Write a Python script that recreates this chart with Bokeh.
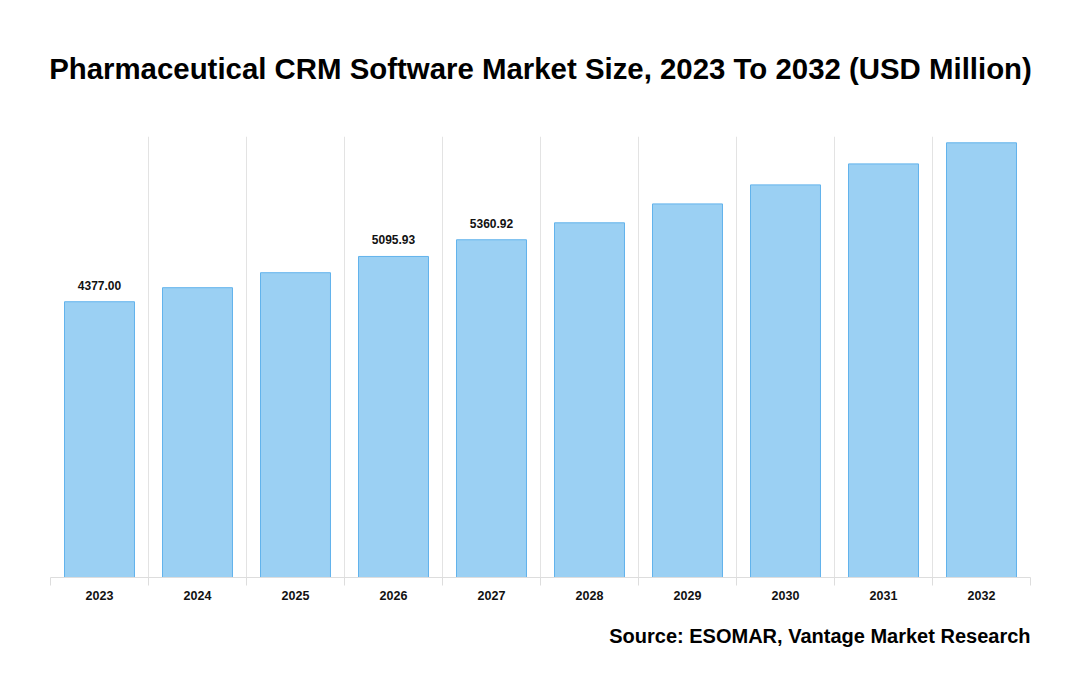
from bokeh.plotting import figure
from bokeh.models import ColumnDataSource, Range1d, FixedTicker, Title, LabelSet
from bokeh.core.properties import value
from bokeh.embed import file_html
from bokeh.resources import INLINE

years = ["2023", "2024", "2025", "2026", "2027", "2028", "2029", "2030", "2031", "2032"]
values = [4377.00, 4600, 4838, 5095.93, 5360.92, 5630, 5930, 6232, 6565, 6900]
value_labels = ["4377.00", "", "", "5095.93", "5360.92", "", "", "", "", "6900"]

FONT = "Liberation Sans"

xs = list(range(len(years)))
src = ColumnDataSource(dict(x=xs, top=values, lab=value_labels))

p = figure(width=1080, height=696, output_backend="svg", toolbar_location=None,
           x_range=Range1d(-0.5, len(years) - 0.5), y_range=Range1d(0, 7000),
           min_border_left=50, min_border_right=50, min_border_top=136, min_border_bottom=119)
p.outline_line_color = None
p.background_fill_color = "white"
p.border_fill_color = "white"

p.vbar(x="x", top="top", width=0.714, bottom=0, source=src,
       fill_color="#9BD0F3", line_color="#62B3EC", line_width=1)

labels = LabelSet(x="x", y="top", text="lab", source=src, y_offset=12,
                  text_align="center", text_baseline="bottom",
                  text_font=value(FONT), text_font_style="bold", text_font_size="12px",
                  text_color="#111111")
p.add_layout(labels)

centers = xs
bounds = [i - 0.5 for i in range(len(years) + 1)]
p.xaxis.ticker = FixedTicker(ticks=centers, minor_ticks=bounds)
p.xaxis.major_label_overrides = {i: y for i, y in enumerate(years)}
p.xaxis.major_tick_line_color = None
p.xaxis.major_tick_out = 0
p.xaxis.minor_tick_line_color = "#dddddd"
p.xaxis.minor_tick_in = 0
p.xaxis.minor_tick_out = 8
p.xaxis.axis_line_color = "#dddddd"
p.xaxis.major_label_text_font = FONT
p.xaxis.major_label_text_font_style = "bold"
p.xaxis.major_label_text_font_size = "12.5px"
p.xaxis.major_label_text_color = "#111111"
p.xaxis.major_label_standoff = 5

p.xgrid.ticker = FixedTicker(ticks=bounds)
p.xgrid.grid_line_color = "#e3e3e3"
p.ygrid.grid_line_color = None
p.yaxis.visible = False

p.add_layout(Title(text="Pharmaceutical CRM Software Market Size, 2023 To 2032 (USD Million)",
                   align="center", vertical_align="top", text_font=FONT, text_font_style="bold",
                   text_font_size="29.4px", text_color="#000000", standoff=99), "above")
p.add_layout(Title(text="Source: ESOMAR, Vantage Market Research",
                   align="right", text_font=FONT, text_font_style="bold",
                   text_font_size="20px", text_color="#000000", standoff=40), "below")

open("out.html", "w").write(file_html(p, INLINE))
